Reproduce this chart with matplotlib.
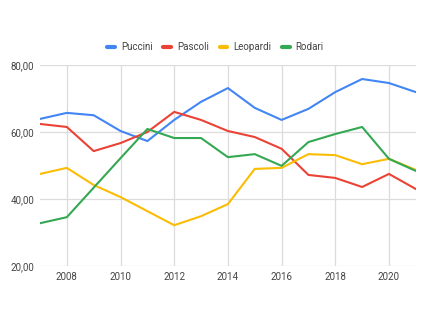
import numpy as np
import matplotlib
matplotlib.use("Agg")
from matplotlib import pyplot as plt
from matplotlib.ticker import FuncFormatter

plt.rcParams['font.family'] = ['Roboto', 'DejaVu Sans']

years = list(range(2007, 2022))
puccini = [63.9, 65.7, 65.0, 60.3, 57.3, 63.6, 69.0, 73.1, 67.2, 63.6, 66.9, 71.9, 75.8, 74.6, 71.9]
pascoli = [62.4, 61.5, 54.3, 56.7, 60.0, 66.0, 63.6, 60.3, 58.5, 55.0, 47.2, 46.3, 43.6, 47.5, 43.0]
leopardi = [47.5, 49.3, 44.2, 40.6, 36.4, 32.2, 34.9, 38.5, 49.0, 49.3, 53.4, 53.1, 50.4, 52.0, 48.7]
rodari = [32.8, 34.6, 43.4, 52.2, 60.9, 58.2, 58.2, 52.5, 53.4, 49.9, 57.0, 59.4, 61.5, 52.0, 48.4]

names = ['Puccini', 'Pascoli', 'Leopardi', 'Rodari']
colors = ['#4285F4', '#EA4335', '#FBBC04', '#34A853']

fig = plt.figure(figsize=(4.3, 3.23), dpi=100)
ax = fig.add_axes([0.093, 0.176, 0.874, 0.623])

for vals, name, c in zip([puccini, pascoli, leopardi, rodari], names, colors):
    ax.plot(years, vals, color=c, lw=1.5, label=name, solid_joinstyle='round')

ax.set_xlim(2007, 2021)
ax.set_ylim(20, 80)
ax.set_xticks(range(2008, 2021, 2))
ax.set_yticks([20, 40, 60, 80])
ax.yaxis.set_major_formatter(FuncFormatter(lambda v, p: f"{v:.2f}".replace('.', ',')))
ax.grid(True, color='#dcdcdc', lw=0.9)
ax.set_axisbelow(True)
for s in ax.spines.values():
    s.set_visible(False)
ax.tick_params(length=0, labelsize=7, colors='#444444', pad=4)

leg = ax.legend(loc='lower center', bbox_to_anchor=(0.467, 1.02), ncol=4, frameon=False,
                fontsize=7, handlelength=0.8, handletextpad=0.6, columnspacing=1.1)
for h in leg.get_lines():
    h.set_linewidth(3)
    h.set_solid_capstyle('round')
for t in leg.get_texts():
    t.set_color('#444444')

fig.savefig('out.png', dpi=100)
